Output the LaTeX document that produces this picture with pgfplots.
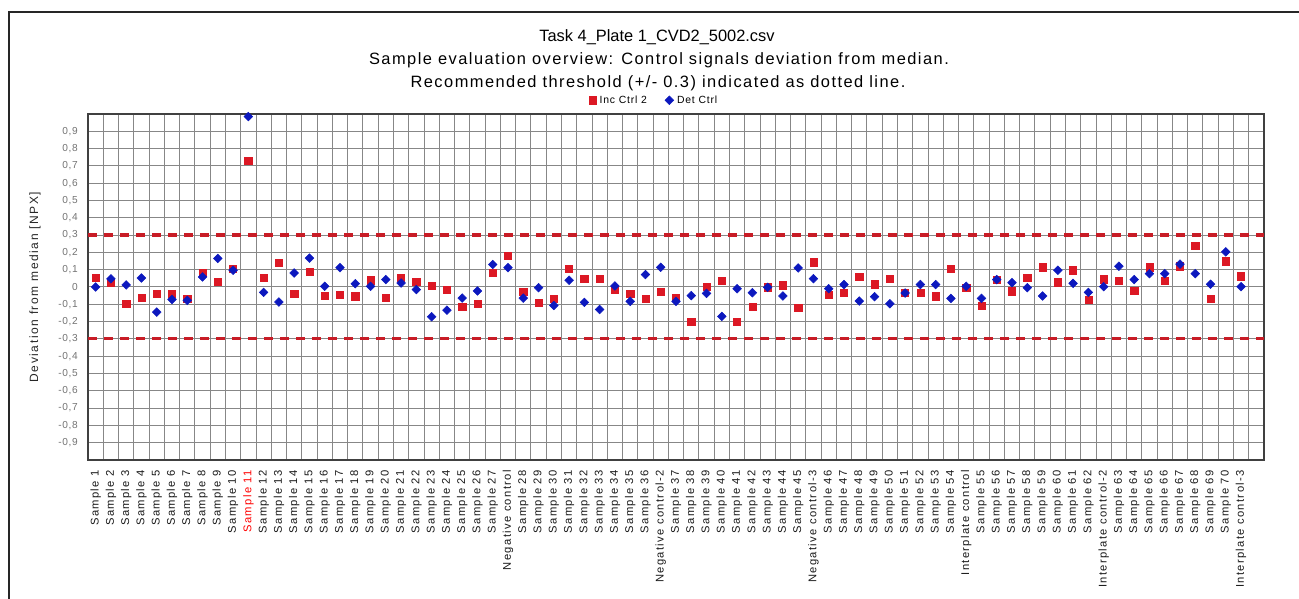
\documentclass[border=0pt]{standalone}
\usepackage{fontspec}
\setmainfont{Liberation Sans}
\newfontfamily\titlefam[LetterSpace=9]{Liberation Sans}
\newfontfamily\titlefamA{Liberation Sans}
\newfontfamily\xlabfam[LetterSpace=12]{Liberation Sans}
\newfontfamily\ylabfam[LetterSpace=13]{Liberation Sans}
\newfontfamily\tickfam[LetterSpace=6]{Liberation Sans}
\newfontfamily\legfam[LetterSpace=8]{Liberation Sans}
\usepackage{pgfplots}
\usepackage{pgfplotstable}
\pgfplotsset{compat=1.18}

\definecolor{incred}{RGB}{220,24,36}
\definecolor{detblue}{RGB}{12,24,190}
\definecolor{threshred}{RGB}{200,28,38}
\definecolor{gridgray}{RGB}{135,135,135}

% x = category index, inc = Inc Ctrl 2, det = Det Ctrl
\pgfplotstableread{
x inc det
0 0.052 0.000
1 0.023 0.047
2 -0.097 0.012
3 -0.060 0.052
4 -0.037 -0.145
5 -0.037 -0.072
6 -0.066 -0.077
7 0.080 0.058
8 0.029 0.165
9 0.105 0.097
10 0.730 0.985
11 0.052 -0.031
12 0.141 -0.087
13 -0.037 0.081
14 0.089 0.167
15 -0.052 0.004
16 -0.045 0.112
17 -0.054 0.019
18 0.039 0.004
19 -0.060 0.043
20 0.054 0.023
21 0.031 -0.015
22 0.008 -0.172
23 -0.015 -0.134
24 -0.112 -0.064
25 -0.097 -0.023
26 0.081 0.130
27 0.182 0.112
28 -0.027 -0.064
29 -0.089 -0.004
30 -0.066 -0.107
31 0.107 0.039
32 0.047 -0.089
33 0.047 -0.130
34 -0.015 0.006
35 -0.037 -0.083
36 -0.070 0.072
37 -0.029 0.114
38 -0.060 -0.083
39 -0.202 -0.050
40 0.002 -0.037
41 0.037 -0.170
42 -0.202 -0.010
43 -0.112 -0.033
44 -0.002 -0.002
45 0.010 -0.052
46 -0.118 0.110
47 0.143 0.048
48 -0.045 -0.010
49 -0.035 0.014
50 0.060 -0.081
51 0.016 -0.056
52 0.047 -0.097
53 -0.035 -0.035
54 -0.035 0.014
55 -0.054 0.014
56 0.105 -0.066
57 -0.006 0.004
58 -0.108 -0.066
59 0.041 0.043
60 -0.025 0.025
61 0.054 -0.004
62 0.114 -0.052
63 0.027 0.097
64 0.097 0.021
65 -0.074 -0.031
66 0.045 0.002
67 0.037 0.120
68 -0.023 0.043
69 0.114 0.077
70 0.035 0.077
71 0.120 0.132
72 0.240 0.077
73 -0.068 0.016
74 0.149 0.203
75 0.062 0.002
}\ctrldata

\begin{document}
\begin{tikzpicture}
\path[use as bounding box] (0pt,0pt) rectangle (974.25pt,449.25pt);
\draw[line width=1.1pt, black!85] (6.75pt,0pt) -- (6.75pt,440.25pt) -- (974.25pt,440.25pt);

\node[font={\titlefamA\fontsize{12.3pt}{14pt}\selectfont}] at (492.75pt,421.5pt) {Task 4\_Plate 1\_CVD2\_5002.csv};
\node[font={\titlefam\fontsize{12.3pt}{14pt}\selectfont}] at (494.25pt,404.25pt) {Sample evaluation overview: Control signals deviation from median.};
\node[font={\titlefam\fontsize{12.3pt}{14pt}\selectfont}] at (493.5pt,387pt) {Recommended threshold (+/- 0.3) indicated as dotted line.};

\begin{axis}[
    at={(66pt,104.25pt)}, anchor=south west,
    scale only axis,
    width=882pt, height=259.5pt,
    xmin=-0.5, xmax=76.5,
    ymin=-1, ymax=1,
    axis line style={line width=1.1pt, black!75},
    major tick length=0pt, minor tick length=0pt,
    xtick={0,...,75},
    xticklabels={Sample 1,Sample 2,Sample 3,Sample 4,Sample 5,Sample 6,Sample 7,Sample 8,Sample 9,Sample 10,
        {\color{red}Sample 11},Sample 12,Sample 13,Sample 14,Sample 15,Sample 16,Sample 17,Sample 18,Sample 19,Sample 20,
        Sample 21,Sample 22,Sample 23,Sample 24,Sample 25,Sample 26,Sample 27,Negative control,
        Sample 28,Sample 29,Sample 30,Sample 31,Sample 32,Sample 33,Sample 34,Sample 35,Sample 36,Negative control-2,
        Sample 37,Sample 38,Sample 39,Sample 40,Sample 41,Sample 42,Sample 43,Sample 44,Sample 45,Negative control-3,
        Sample 46,Sample 47,Sample 48,Sample 49,Sample 50,Sample 51,Sample 52,Sample 53,Sample 54,Interplate control,
        Sample 55,Sample 56,Sample 57,Sample 58,Sample 59,Sample 60,Sample 61,Sample 62,Interplate control-2,
        Sample 63,Sample 64,Sample 65,Sample 66,Sample 67,Sample 68,Sample 69,Sample 70,Interplate control-3},
    xticklabel shift=7.5pt,
    xticklabel style={rotate=90, anchor=east, inner sep=0pt,
        font={\xlabfam\fontsize{8.4pt}{9pt}\selectfont}, text=black!90},
    minor xtick={-0.5,0.5,...,76.5},
    xminorgrids=true,
    ytick={-0.9,-0.8,-0.7,-0.6,-0.5,-0.4,-0.3,-0.2,-0.1,0,0.1,0.2,0.3,0.4,0.5,0.6,0.7,0.8,0.9},
    yticklabels={{-0,9},{-0,8},{-0,7},{-0,6},{-0,5},{-0,4},{-0,3},{-0,2},{-0,1},{0},
        {0,1},{0,2},{0,3},{0,4},{0,5},{0,6},{0,7},{0,8},{0,9}},
    yticklabel style={anchor=east, inner sep=0pt, xshift=-7.5pt,
        font={\tickfam\fontsize{7.6pt}{9pt}\selectfont}, text=black!55},
    ymajorgrids=true,
    grid style={line width=0.75pt, gridgray},
    minor grid style={line width=0.75pt, gridgray},
    ylabel={Deviation from median [NPX]},
    ylabel style={at={(axis description cs:-0.045,0.5)}, anchor=center,
        font={\ylabfam\fontsize{9pt}{10pt}\selectfont}, text=black!85},
    legend columns=2,
    legend style={at={(0.482,1)}, anchor=south, yshift=2pt, draw=none, fill=none,
        font={\legfam\fontsize{7.8pt}{8pt}\selectfont},
        /tikz/every even column/.append style={column sep=11pt},
        nodes={inner sep=2.5pt}},
    legend image code/.code={\draw[mark repeat=2,mark phase=2,#1] plot coordinates {(0pt,0pt)(3pt,0pt)(6pt,0pt)};},
    clip=false,
]
\addplot[threshred, line width=2.4pt, dash pattern=on 7pt off 5pt, forget plot]
    coordinates {(-0.5,0.3) (76.5,0.3)};
\addplot[threshred, line width=2.4pt, dash pattern=on 7pt off 5pt, forget plot]
    coordinates {(-0.5,-0.3) (76.5,-0.3)};

\addplot[only marks, mark=square*, mark size=2.7pt, color=incred]
    table[x=x, y=inc] {\ctrldata};
\addplot[only marks, mark=square*, mark size=2.3pt, mark options={rotate=45}, color=detblue]
    table[x=x, y=det] {\ctrldata};
\legend{Inc Ctrl 2, Det Ctrl}
\end{axis}
\end{tikzpicture}
\end{document}
